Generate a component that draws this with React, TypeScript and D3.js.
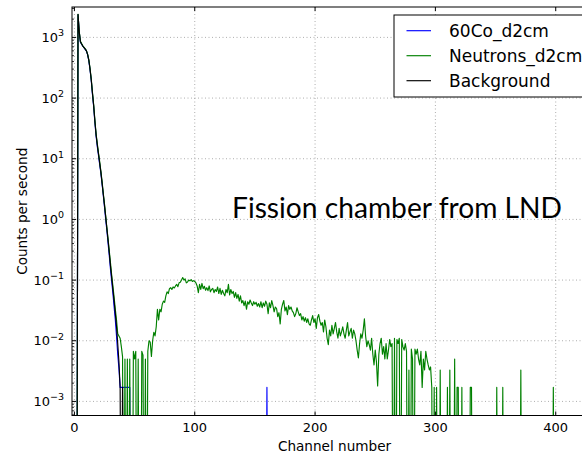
import React from 'react';
import * as d3 from 'd3';

// counts per second, index = channel number
const background = [
  0, 0, 0, 2400, 1250, 850, 780, 720, 680, 640,
  600, 520, 420, 300, 200, 120, 75, 42, 25, 17,
  12, 8.5, 6, 4, 2.6, 1.7, 1.1, 0.7, 0.45, 0.28,
  0.17, 0.11, 0.07, 0.045, 0.028, 0.017, 0.009, 0.0045, 0.0017, 0,
  0.0017,
];

const co60 = [
  0, 0, 0, 2350, 1200, 830, 770, 715, 675, 635,
  595, 515, 410, 290, 195, 115, 72, 40, 24, 16,
  11.5, 8, 5.8, 3.8, 2.5, 1.6, 1.0, 0.65, 0.4, 0.25,
  0.15, 0.095, 0.06, 0.036, 0.022, 0.012, 0.006, 0.0035, 0.0017, 0.0017,
  0.0017, 0.0017, 0.0017, 0.0017, 0.0017, 0.0017, 0.0017,
];
const co60TailChannels = [160];
const co60TailValues = [0.0017];

const neutrons = [
  0, 0, 0, 2400, 1260, 860, 790, 725, 685, 645,
  605, 525, 425, 305, 205, 125, 78, 44, 26, 18,
  12.5, 9, 6.2, 4.2, 2.7, 1.8, 1.15, 0.72, 0.47, 0.3,
  0.19, 0.12, 0.08, 0.052, 0.033, 0.022, 0.013, 0.012, 0.011, 0.008,
  0.0055, 0, 0.005, 0, 0.005, 0, 0.005, 0, 0, 0.0067,
  0.005, 0.0067, 0, 0.005, 0, 0, 0.0067, 0.0058, 0, 0.005,
  0, 0.0067, 0.01, 0.0095, 0.0055, 0.01, 0.0138, 0.012, 0.017, 0.033,
  0.022, 0.033, 0.03, 0.04, 0.045, 0.043, 0.055, 0.064, 0.06, 0.072,
  0.075, 0.07, 0.077, 0.074, 0.08, 0.085, 0.078, 0.09, 0.092, 0.1,
  0.11, 0.1, 0.105, 0.09, 0.093, 0.1, 0.097, 0.102, 0.095, 0.098,
  0.095, 0.09, 0.08, 0.062, 0.085, 0.07, 0.088, 0.072, 0.079, 0.068,
  0.075, 0.067, 0.08, 0.064, 0.07, 0.073, 0.062, 0.07, 0.065, 0.077,
  0.06, 0.073, 0.058, 0.068, 0.06, 0.055, 0.07, 0.062, 0.085, 0.057,
  0.07, 0.06, 0.065, 0.052, 0.062, 0.05, 0.058, 0.045, 0.055, 0.042,
  0.046, 0.038, 0.045, 0.033, 0.044, 0.04, 0.047, 0.042, 0.038, 0.044,
  0.04, 0.043, 0.037, 0.041, 0.036, 0.044, 0.035, 0.042, 0.037, 0.045,
  0.04, 0.028, 0.042, 0.035, 0.046, 0.038, 0.03, 0.036, 0.034, 0.025,
  0.029, 0.019, 0.033, 0.04, 0.046, 0.031, 0.036, 0.027, 0.038, 0.033,
  0.036, 0.031, 0.029, 0.025, 0.028, 0.035, 0.03, 0.026, 0.028, 0.022,
  0.025, 0.021, 0.024, 0.02, 0.023, 0.019, 0.018, 0.022, 0.026, 0.02,
  0.023, 0.016, 0.024, 0.027, 0.021, 0.018, 0.02, 0.014, 0.022, 0.017,
  0.011, 0.0086, 0.015, 0.012, 0.018, 0.013, 0.016, 0.02, 0.014, 0.011,
  0.016, 0.012, 0.014, 0.017, 0.013, 0.011, 0.015, 0.02, 0.012, 0.014,
  0.016, 0.011, 0.015, 0.013, 0.01, 0.007, 0.0052, 0.009, 0.013, 0.011,
  0.015, 0.023, 0.012, 0.008, 0.01, 0.0086, 0.007, 0.011, 0.006, 0.004,
  0.007, 0.0045, 0.0018, 0.006, 0.009, 0.011, 0.006, 0.008, 0.005, 0.009,
  0.005, 0.007, 0.0105, 0.008, 0.009, 0, 0.011, 0, 0.0105, 0.009,
  0.011, 0, 0.0105, 0.008, 0.007, 0.009, 0.0067, 0, 0.0033, 0,
  0.0073, 0.005, 0, 0.0073, 0.006, 0.0073, 0.005, 0.004, 0.0067, 0.0017,
  0.005, 0.0033, 0.0067, 0.005, 0.004, 0.0033, 0.0037, 0.0017, 0, 0.0017,
];
const neutronTailChannels = [301, 304, 310, 312, 316, 318, 319, 322, 329, 330, 351, 356, 371, 398];
const neutronTailValues = [0.0017, 0.0033, 0.0017, 0.0033, 0.005, 0.0017, 0.0017, 0.0017, 0.0017, 0.0017, 0.0017, 0.0017, 0.0033, 0.0017];

const xTicks = [0, 100, 200, 300, 400];
const yExponents = [-3, -2, -1, 0, 1, 2, 3];
const seriesNames = ['60Co_d2cm', 'Neutrons_d2cm', 'Background'];
const seriesColors = ['#0000ff', '#008000', '#000000'];

const nChannels = 434;

function fullSeries(base: number[], tailCh: number[] = [], tailV: number[] = []) {
  const out = new Array(nChannels).fill(0);
  base.forEach((v, i) => (out[i] = v));
  tailCh.forEach((c, i) => (out[c] = tailV[i]));
  return out;
}

export default function App() {
  const width = 582;
  const height = 456;
  const left = 72, right = 597, top = 7, bottom = 415.5;
  const font = 'DejaVu Sans, sans-serif';

  const x = d3.scaleLinear().domain([-2, 434.3]).range([left, right]);
  const y = d3.scaleLog().domain([5.86e-4, 3170]).range([bottom, top]);

  const series = [
    fullSeries(co60, co60TailChannels, co60TailValues),
    fullSeries(neutrons, neutronTailChannels, neutronTailValues),
    fullSeries(background),
  ];

  const line = d3.line<number>()
    .x((_, i) => x(i))
    .y(v => (v > 0 ? y(v) : bottom + 200));

  const minor: number[] = [];
  for (let e = -4; e <= 3; e++) {
    for (let m = 2; m <= 9; m++) {
      const v = m * Math.pow(10, e);
      if (v > y.domain()[0] && v < y.domain()[1]) minor.push(v);
    }
  }

  return (
    <svg width={width} height={height} style={{ position: 'absolute', left: 0, top: 0, background: '#fff' }}>
      <defs>
        <clipPath id="plot">
          <rect x={left} y={top} width={right - left} height={bottom - top} />
        </clipPath>
      </defs>
      <rect x={0} y={0} width={width} height={height} fill="#fff" />

      {/* grid */}
      <g stroke="#777" strokeWidth={0.6} strokeDasharray="1,2.5">
        {xTicks.map(t => (
          <line key={t} x1={x(t)} x2={x(t)} y1={top} y2={bottom} />
        ))}
        {yExponents.map(e => (
          <line key={e} x1={left} x2={right} y1={y(Math.pow(10, e))} y2={y(Math.pow(10, e))} />
        ))}
      </g>

      {/* data */}
      <g clipPath="url(#plot)" fill="none" strokeWidth={1.15}>
        {series.map((s, i) => (
          <path key={i} d={line(s) || ''} stroke={seriesColors[i]} strokeLinejoin="round" />
        ))}
      </g>

      {/* frame and ticks */}
      <rect x={left} y={top} width={right - left} height={bottom - top} fill="none" stroke="#000" strokeWidth={1} />
      <g stroke="#000" strokeWidth={1}>
        {xTicks.map(t => (
          <g key={t}>
            <line x1={x(t)} x2={x(t)} y1={bottom} y2={bottom - 4} />
            <line x1={x(t)} x2={x(t)} y1={top} y2={top + 4} />
          </g>
        ))}
        {yExponents.map(e => (
          <line key={e} x1={left} x2={left + 4} y1={y(Math.pow(10, e))} y2={y(Math.pow(10, e))} />
        ))}
        {minor.map(v => (
          <line key={v} x1={left} x2={left + 2} y1={y(v)} y2={y(v)} strokeWidth={0.8} />
        ))}
      </g>

      {/* tick labels */}
      <g fontFamily={font} fontSize={13} fill="#000">
        {xTicks.map(t => (
          <text key={t} x={x(t)} y={432} textAnchor="middle">{t}</text>
        ))}
        {yExponents.map(e => (
          <text key={e} x={64} y={y(Math.pow(10, e)) + 4.5} textAnchor="end">
            10<tspan dy={-5.5} fontSize={9.5}>{e < 0 ? '\u2212' + Math.abs(e) : e}</tspan>
          </text>
        ))}
      </g>

      {/* axis labels */}
      <text x={(left + right) / 2} y={451} textAnchor="middle" fontFamily={font} fontSize={13.6}>
        Channel number
      </text>
      <text
        transform={`translate(27,${(top + bottom) / 2}) rotate(-90)`}
        textAnchor="middle"
        fontFamily={font}
        fontSize={13.6}
      >
        Counts per second
      </text>

      {/* annotation */}
      <text x={232} y={217.5} fontFamily="Lato, Open Sans, sans-serif" fontSize={29} textLength={330} lengthAdjust="spacingAndGlyphs">
        Fission chamber from LND
      </text>

      {/* legend */}
      <g>
        <rect x={394} y={15} width={260} height={82} fill="#fff" stroke="#000" strokeWidth={1} />
        {seriesNames.map((n, i) => {
          const ly = 30.7 + i * 25;
          return (
            <g key={n}>
              <line x1={406.5} x2={431} y1={ly} y2={ly} stroke={seriesColors[i]} strokeWidth={1.15} />
              <text x={449} y={ly + 6} fontFamily={font} fontSize={17}>{n}</text>
            </g>
          );
        })}
      </g>
    </svg>
  );
}
